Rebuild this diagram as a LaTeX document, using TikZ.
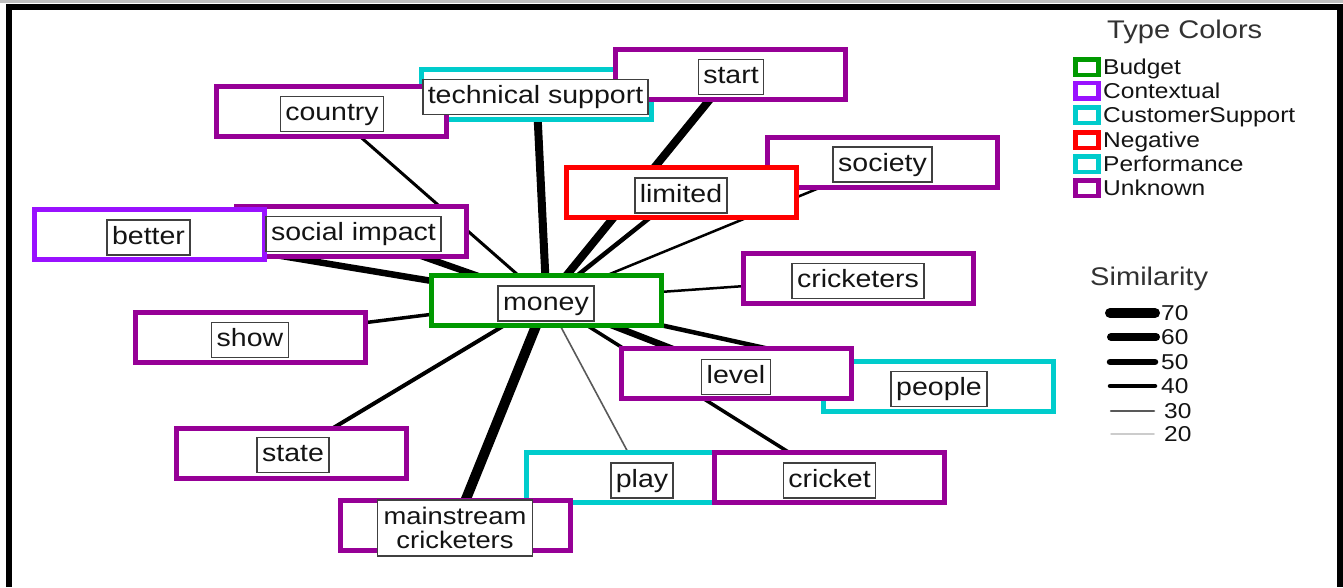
\documentclass[tikz,border=0pt]{standalone}
\usepackage{fontspec}
\setmainfont[FakeStretch=1.14]{Liberation Sans}
\usetikzlibrary{backgrounds}
\pgfdeclarelayer{bgfill}
\pgfsetlayers{bgfill,background,main}
\definecolor{unk}{RGB}{150,0,150}
\definecolor{ctx}{RGB}{153,17,255}
\definecolor{cyn}{RGB}{0,204,204}
\definecolor{bud}{RGB}{0,153,0}
\definecolor{neg}{RGB}{255,0,0}
\definecolor{txt}{RGB}{20,20,20}
\definecolor{ttl}{RGB}{50,50,50}
\begin{document}
\begin{tikzpicture}[x=1pt,y=-1pt,
  obox/.style={draw=#1, line width=5pt, fill=white, minimum width=230pt, minimum height=50pt, inner sep=0pt},
  lbl/.style={draw=black!75, line width=1.5pt, fill=white, font=\fontsize{25}{22}\selectfont, text=txt,
              inner xsep=5pt, inner ysep=0pt, minimum height=35pt, text height=18pt, text depth=5pt},
  lbltwo/.style={draw=black!75, line width=1.5pt, fill=white, font=\fontsize{24}{24}\selectfont, text=txt,
              inner xsep=6pt, inner ysep=0pt, minimum height=56pt, align=center},
  conn/.style={line width=#1, black},
  legsq/.style={draw=#1, line width=4.5pt, fill=white, minimum width=23pt, minimum height=15.5pt, inner sep=0pt},
  legtxt/.style={anchor=base west, font=\fontsize{21.5}{22}\selectfont, text=txt, inner sep=0pt},
  legttl/.style={anchor=base west, font=\fontsize{25.5}{26}\selectfont, text=ttl, inner sep=0pt},
  simline/.style={line width=#1, line cap=round},
]
\useasboundingbox (0,0) rectangle (1343,587);
\begin{pgfonlayer}{bgfill}
\fill[white] (0,0) rectangle (1343,587);
\end{pgfonlayer}
% frame
\draw[gray!50, line width=3pt] (0,1.5) -- (1343,1.5);
\draw[line width=6pt, line join=miter] (8.5,587) -- (8.5,7) -- (1339.5,7) -- (1339.5,587);

% outer boxes (drawing order matters for overlaps)
\node[obox=cyn] (tech) at (536.5,94.5) {};
\node[obox=unk] (country) at (331.5,111.5) {};
\node[obox=unk] (start) at (730.5,74) {};
\node[obox=unk] (social) at (351.5,231.5) {};
\node[obox=ctx] (better) at (149,234) {};
\node[obox=unk] (society) at (882.5,162) {};
\node[obox=neg] (limited) at (681.5,192.5) {};
\node[obox=bud] (money) at (546.5,300) {};
\node[obox=unk] (cricketers) at (858.5,278) {};
\node[obox=unk] (show) at (250,337) {};
\node[obox=unk] (state) at (291.5,453) {};
\node[obox=cyn] (people) at (938,386) {};
\node[obox=unk] (level) at (736,373.5) {};
\node[obox=cyn] (play) at (641.5,477.5) {};
\node[obox=unk] (cricket) at (829,477.5) {};
\node[obox=unk] (mainstream) at (455.5,525) {};

% labels
\node[lbl] (countryl) at (332,114) {country};
\node[lbl] (techl) at (535.5,97) {technical support};
\node[lbl] (startl) at (731,77) {start};
\node[lbl] (societyl) at (882.5,164.5) {society};
\node[lbl] (limitedl) at (681,195.5) {limited};
\node[lbl] (sociall) at (353.5,234) {social impact};
\node[lbl] (betterl) at (148.5,237.5) {better};
\node[lbl] (moneyl) at (546,303.5) {money};
\node[lbl] (cricketersl) at (858,281) {cricketers};
\node[lbl] (showl) at (250,340) {show};
\node[lbl] (statel) at (293,455) {state};
\node[lbltwo] (mainstreaml) at (455,528) {mainstream\\cricketers};
\node[lbl] (levell) at (736,377) {level};
\node[lbl] (peoplel) at (939,389) {people};
\node[lbl] (playl) at (642,480.5) {play};
\node[lbl] (cricketl) at (829.5,480.5) {cricket};

% connectors (behind the boxes)
\begin{pgfonlayer}{background}
\draw[conn=3] (money.center) -- (country.center);
\draw[conn=8] (money.center) -- (tech.center);
\draw[conn=8] (money.center) -- (start.center);
\draw[conn=2.5] (money.center) -- (society.center);
\draw[conn=4.5] (money.center) -- (limited.center);
\draw[conn=6.5] (money.center) -- (better.center);
\draw[conn=6.5] (money.center) -- (social.center);
\draw[conn=2.5] (money.center) -- (cricketers.center);
\draw[conn=3.5] (money.center) -- (show.center);
\draw[conn=4] (money.center) -- (state.center);
\draw[conn=10] (money.center) -- (mainstream.center);
\draw[line width=1.6pt, black!65] (money.center) -- (play.center);
\draw[conn=3.5] (money.center) -- (cricket.center);
\draw[conn=6.5] (money.center) -- (level.center);
\draw[conn=4.5] (money.center) -- (people.center);
\end{pgfonlayer}

% legend: type colors
\node[legttl] (tctitle) at (1107,38) {Type Colors};
\node[legsq=bud] (sq1) at (1087,67) {};
\node[legsq=ctx] (sq2) at (1087,90.5) {};
\node[legsq=cyn] (sq3) at (1087,115) {};
\node[legsq=neg] (sq4) at (1087,140) {};
\node[legsq=cyn] (sq5) at (1087,164) {};
\node[legsq=unk] (sq6) at (1087,188) {};
\node[legtxt] (lt1) at (1103,74.5) {Budget};
\node[legtxt] (lt2) at (1103,98) {Contextual};
\node[legtxt] (lt3) at (1103,122.5) {CustomerSupport};
\node[legtxt] (lt4) at (1103,147.5) {Negative};
\node[legtxt] (lt5) at (1103,171.5) {Performance};
\node[legtxt] (lt6) at (1103,195.5) {Unknown};

% legend: similarity
\node[legttl] (simtitle) at (1090,285) {Similarity};
\draw[simline=10] (1110,313) -- (1155,313);
\draw[simline=8] (1111,337) -- (1156,337);
\draw[simline=6.5] (1110,362) -- (1155,362);
\draw[simline=4.5] (1110,386) -- (1155,386);
\draw[simline=2.5, black!65] (1111,411) -- (1154,411);
\draw[simline=1.5, black!20] (1111,434) -- (1154,434);
\node[legtxt] (n70) at (1161,320.5) {70};
\node[legtxt] (n60) at (1161,344.5) {60};
\node[legtxt] (n50) at (1161,369.5) {50};
\node[legtxt] (n40) at (1161,393.5) {40};
\node[legtxt] (n30) at (1164,418.5) {30};
\node[legtxt] (n20) at (1164,441.5) {20};
\end{tikzpicture}
\end{document}
